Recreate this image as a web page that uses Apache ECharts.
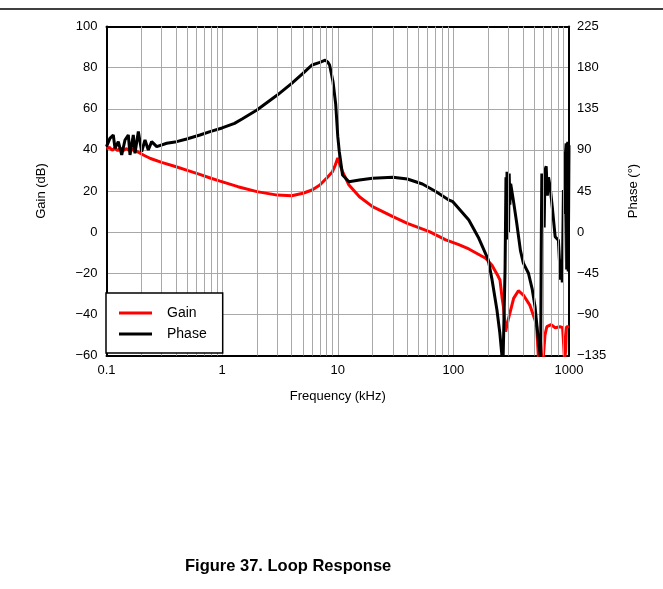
<!DOCTYPE html>
<html>
<head>
<meta charset="utf-8">
<script src="https://cdn.jsdelivr.net/npm/echarts@6/dist/echarts.min.js"></script>
<style>
  html, body { margin: 0; padding: 0; background: #fff; }
  #chart { width: 663px; height: 589px; }
</style>
</head>
<body>
<div id="chart"></div>
<script>
// frequency (kHz) / gain (dB)
var gainFreq = [0.1, 0.106, 0.112, 0.118, 0.125, 0.132, 0.14, 0.148, 0.156, 0.165, 0.172, 0.18, 0.19, 0.208, 0.24, 0.3, 0.4, 0.5, 0.64, 0.8, 0.96, 1.37, 2, 3, 4, 5, 6, 7, 8, 9, 9.5, 10, 10.5, 11, 12.5, 15.4, 20, 30, 40, 62, 86, 110, 136, 190, 215, 244, 253, 264, 271, 283, 290, 300, 332, 365, 403, 458, 509, 525, 545, 580, 601, 620, 643, 700, 760, 835, 880, 900, 913, 935, 950, 1000];
var gainDb = [40.5, 41.2, 39.8, 40.9, 39.6, 40.8, 39.7, 40.6, 39.9, 40.3, 39.8, 39.5, 38.8, 37.5, 35.8, 33.9, 31.8, 30.0, 28.1, 26.2, 24.8, 22.1, 19.7, 18.0, 17.7, 18.9, 20.5, 22.9, 26.2, 29.4, 32.5, 36.0, 32.5, 29.4, 22.9, 17.2, 12.4, 7.5, 4.3, 0.2, -3.8, -6.0, -8.2, -12.7, -16.0, -21.5, -23.3, -32.2, -36.3, -48.4, -49.2, -41.9, -32.2, -28.5, -30.6, -35.5, -42.8, -46, -62, -66, -60, -50, -46, -45, -46.5, -46, -46.5, -55, -62, -58, -46, -46];

// frequency (kHz) / phase (deg)
var phaseFreq = [0.1, 0.107, 0.1145, 0.1185, 0.1265, 0.1354, 0.1445, 0.1544, 0.1597, 0.1705, 0.1764, 0.1885, 0.2015, 0.2153, 0.2298, 0.2459, 0.272, 0.332, 0.404, 0.494, 0.643, 0.786, 1.0, 1.28, 1.5, 2, 3, 4, 5, 6, 7, 7.8, 8.2, 8.5, 9.1, 9.6, 10, 10.3, 11, 12.5, 15.4, 20, 30, 40, 54, 71, 92, 99, 136, 166, 200, 216, 238, 252, 262, 268, 275, 280, 285, 288, 291, 294, 297, 300, 304, 308, 313, 330, 353, 380, 403, 446, 480, 509, 540, 562, 568, 575, 582, 590, 600, 610, 620, 635, 650, 665, 686, 720, 759, 810, 843, 860, 875, 895, 910, 925, 945, 955, 965, 975, 985, 1000];
var phaseDeg = [93.5, 102.6, 106.3, 91.7, 99, 84.4, 100.8, 106.3, 84.4, 106.3, 86.2, 110, 88, 100.8, 89.9, 99, 93.5, 97.2, 99, 101.9, 106.3, 110, 114, 119, 124, 133.6, 150, 162.8, 173.8, 182.9, 185.8, 188.3, 186, 182.9, 164.6, 140, 105, 88.6, 62.5, 55.2, 57, 58.9, 60, 58.1, 52.7, 44.2, 35, 33.3, 13.3, -6.8, -30, -52, -85, -110, -133, -150, -150, -40, 60, -5, 66, -8, 62, 0, 64, 30, 53, 35, 10, -20, -34, -45, -62, -82, -115, -133, -150, -20, 64, 10, 60, 5, 68, 72, 40, 60, 50, 25, -5, -9, -52, -30, -55, 46, 20, 80, 97, -41, 30, 99, -43, 95];

// tick values
var freqTicks = [0.1, 1, 10, 100, 1000];
var minorFreqs = [0.2, 0.3, 0.4, 0.5, 0.6, 0.7, 0.8, 0.9, 2, 3, 4, 5, 6, 7, 8, 9, 20, 30, 40, 50, 60, 70, 80, 90, 200, 300, 400, 500, 600, 700, 800, 900];

function pairs(xs, ys) {
  var out = [];
  for (var i = 0; i < xs.length; i++) out.push([xs[i], ys[i]]);
  return out;
}

var font = '"Liberation Sans", Arial, sans-serif';
var gridColor = '#a8a8a8';
var frame = { show: true, onZero: false, lineStyle: { color: '#000', width: 2 } };
var minus = function (v) { return String(v).replace('-', '\u2212'); };

var chart = echarts.init(document.getElementById('chart'));
chart.setOption({
  animation: false,
  backgroundColor: '#fff',
  textStyle: { fontFamily: font },
  title: {
    text: 'Figure 37. Loop Response',
    left: 180,
    top: 553,
    textStyle: { fontFamily: font, fontSize: 16.5, fontWeight: 'bold', color: '#000' }
  },
  graphic: [{
    type: 'line',
    shape: { x1: 0, y1: 9, x2: 663, y2: 9 },
    style: { stroke: '#000', lineWidth: 1.5 }
  }],
  legend: {
    data: ['Gain', 'Phase'],
    orient: 'vertical',
    left: 106,
    top: 293,
    padding: [13, 16, 12, 13],
    itemGap: 7,
    itemWidth: 33,
    itemHeight: 3,
    icon: 'rect',
    backgroundColor: '#fff',
    borderColor: '#000',
    borderWidth: 1.5,
    z: 10,
    textStyle: { fontFamily: font, fontSize: 14, color: '#000', lineHeight: 14, padding: [0, 0, 0, 10] }
  },
  grid: {
    left: 106.5,
    right: 94,
    top: 26.5,
    bottom: 233.5
  },
  xAxis: [{
    type: 'log',
    logBase: 10,
    min: freqTicks[0],
    max: freqTicks[freqTicks.length - 1],
    name: 'Frequency (kHz)',
    nameLocation: 'middle',
    nameGap: 34,
    nameTextStyle: { fontFamily: font, fontSize: 13, color: '#000' },
    axisLine: frame,
    axisTick: { show: false },
    axisLabel: {
      fontFamily: font, fontSize: 13, color: '#000', margin: 8,
      formatter: function (v) { return String(+v.toPrecision(3)); }
    },
    splitLine: { show: true, lineStyle: { color: gridColor, width: 1 } }
  }, {
    // top edge of the frame
    type: 'log',
    logBase: 10,
    position: 'top',
    min: freqTicks[0],
    max: freqTicks[freqTicks.length - 1],
    axisLine: frame,
    axisTick: { show: false },
    axisLabel: { show: false },
    splitLine: { show: false }
  }],
  yAxis: [{
    type: 'value',
    min: -60,
    max: 100,
    interval: 20,
    name: 'Gain (dB)',
    nameLocation: 'middle',
    nameGap: 59,
    nameTextStyle: { fontFamily: font, fontSize: 13, color: '#000' },
    axisLine: frame,
    axisTick: { show: false },
    axisLabel: { fontFamily: font, fontSize: 13, color: '#000', margin: 9, formatter: minus },
    splitLine: { show: true, lineStyle: { color: gridColor, width: 1 } }
  }, {
    type: 'value',
    min: -135,
    max: 225,
    interval: 45,
    name: 'Phase (\u00b0)',
    nameLocation: 'middle',
    nameGap: 58,
    nameTextStyle: { fontFamily: font, fontSize: 13, color: '#000' },
    axisLine: frame,
    axisTick: { show: false },
    axisLabel: { fontFamily: font, fontSize: 13, color: '#000', margin: 8, formatter: minus },
    splitLine: { show: false }
  }],
  series: [{
    // minor log grid lines only
    name: 'grid',
    type: 'line',
    data: [],
    z: 1,
    silent: true,
    markLine: {
      silent: true,
      symbol: 'none',
      animation: false,
      label: { show: false },
      lineStyle: { color: gridColor, width: 1, type: 'solid' },
      data: minorFreqs.map(function (f) { return { xAxis: f }; })
    }
  }, {
    name: 'Gain',
    type: 'line',
    yAxisIndex: 0,
    showSymbol: false,
    symbol: 'none',
    clip: true,
    z: 3,
    lineStyle: { color: '#ff0000', width: 3 },
    itemStyle: { color: '#ff0000' },
    data: pairs(gainFreq, gainDb)
  }, {
    name: 'Phase',
    type: 'line',
    yAxisIndex: 1,
    showSymbol: false,
    symbol: 'none',
    clip: true,
    z: 4,
    lineStyle: { color: '#000', width: 3 },
    itemStyle: { color: '#000' },
    data: pairs(phaseFreq, phaseDeg)
  }]
});
</script>
</body>
</html>
